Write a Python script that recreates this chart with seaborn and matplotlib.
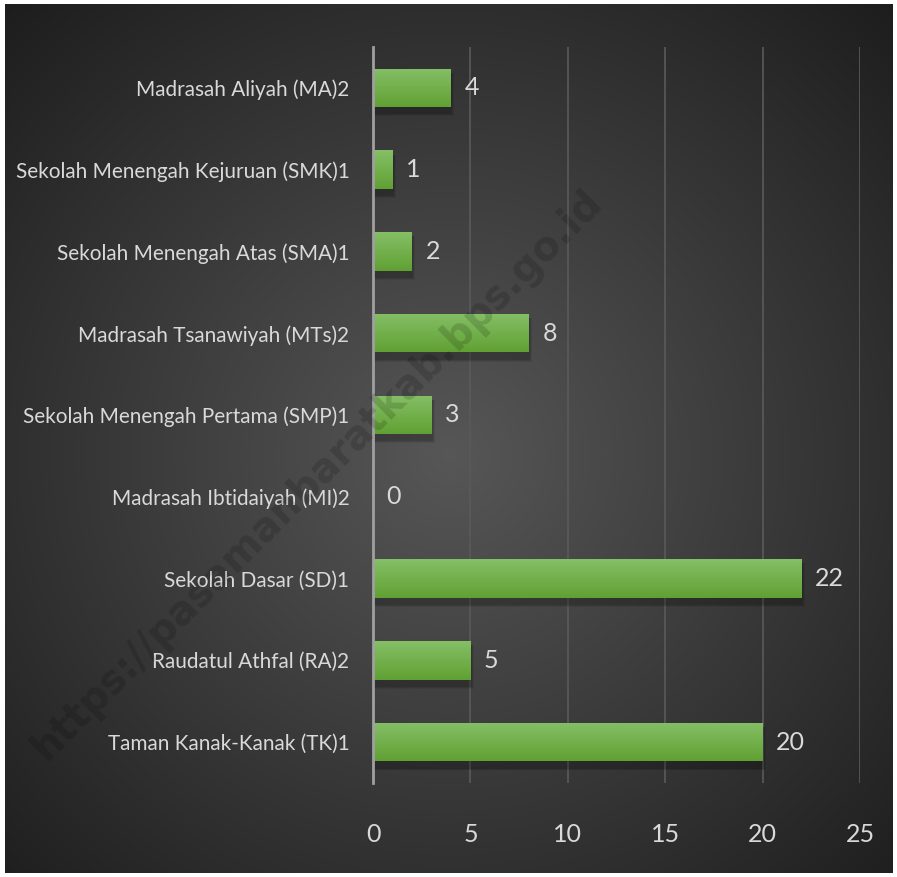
import numpy as np
import pandas as pd
import matplotlib
matplotlib.use("Agg")
import matplotlib.pyplot as plt
import seaborn as sns
from matplotlib.patches import Rectangle
from matplotlib import font_manager

categories = [
    "Madrasah Aliyah (MA)2",
    "Sekolah Menengah Kejuruan (SMK)1",
    "Sekolah Menengah Atas (SMA)1",
    "Madrasah Tsanawiyah (MTs)2",
    "Sekolah Menengah Pertama (SMP)1",
    "Madrasah Ibtidaiyah (MI)2",
    "Sekolah Dasar (SD)1",
    "Raudatul Athfal (RA)2",
    "Taman Kanak-Kanak (TK)1",
]
values = [4, 1, 2, 8, 3, 0, 22, 5, 20]
x_ticks = [0, 5, 10, 15, 20, 25]
watermark = "https://pasamanbaratkab.bps.go.id"

df = pd.DataFrame({"jenjang": categories, "jumlah": values})

sns.set_style("dark")
plt.rcParams["font.family"] = ["Lato", "DejaVu Sans"]
fprop = font_manager.FontProperties(family=["Lato", "DejaVu Sans"])
numprop = font_manager.FontProperties(family=["Lato", "DejaVu Sans"], size=18)
txt_col = "#d9d9d9"

fig = plt.figure(figsize=(8.97, 8.77), dpi=100, facecolor="white")
renderer = fig.canvas.get_renderer()

# fit font size so the longest label is about 332 px wide
fs = 18
probe = fig.text(0, 0, categories[1], fontproperties=fprop, fontsize=fs)
wpx = probe.get_window_extent(renderer).width
probe.remove()
fs = min(22, fs * 334 / wpx)
fprop.set_size(fs)

# dark radial background
bg = fig.add_axes([5 / 897, 4 / 877, 887 / 897, 869 / 877], zorder=0)
yy, xx = np.mgrid[0:1:400j, 0:1:400j]
r = np.sqrt((xx - 0.5) ** 2 + (yy - 0.52) ** 2) / 0.72
r = np.clip(r, 0, 1)
g = 0.34 * (1 - r) + 0.115 * r
bg.imshow(np.dstack([g, g, g]), extent=[0, 1, 0, 1], aspect="auto")
bg.axis("off")

ax = fig.add_axes([373 / 897, 1 - 783 / 877, 487 / 897, 736 / 877], zorder=2)
ax.patch.set_alpha(0)
sns.barplot(data=df, x="jumlah", y="jenjang", orient="h", color="#6aad3d",
            width=0.47, linewidth=0, ax=ax, zorder=3)
ax.set_xlim(0, 25)
ax.set_ylim(len(categories) - 0.5, -0.5)

# gradient + soft shadow on bars
grad = np.linspace(0, 1, 50)
top = np.array([0.52, 0.75, 0.40])
bot = np.array([0.38, 0.63, 0.20])
img = (top[None, :] * (1 - grad[:, None]) + bot[None, :] * grad[:, None]).reshape(50, 1, 3)
for p in list(ax.patches):
    x0, y0 = p.get_x(), p.get_y()
    w, h = p.get_width(), p.get_height()
    if w <= 0:
        continue
    for k, a in [(0.35, 0.07), (0.25, 0.09), (0.15, 0.11)]:
        ax.add_patch(Rectangle((x0, y0 + 0.05), w + k * 0.5, h + 0.02 + k * 0.12,
                               color="black", alpha=a, lw=0, zorder=2))
    im = ax.imshow(img, extent=[x0, x0 + w, y0 + h, y0], aspect="auto",
                   zorder=4, interpolation="bilinear")
    im.set_clip_path(p)
ax.set_xlim(0, 25)
ax.set_ylim(len(categories) - 0.5, -0.5)

for i, v in enumerate(values):
    ax.text(v + 0.7, i, str(v), va="center", ha="left", color=txt_col,
            fontproperties=numprop, zorder=5)

ax.set_xticks(x_ticks)
ax.grid(axis="x", color="#5a5a5a", lw=1.2, zorder=1)
ax.grid(axis="y", visible=False)
for s in ["top", "right", "bottom"]:
    ax.spines[s].set_visible(False)
ax.spines["left"].set_color("#a0a0a0")
ax.spines["left"].set_linewidth(2)
ax.spines["left"].set_zorder(6)
ax.tick_params(axis="x", colors=txt_col, length=0, pad=29)
ax.tick_params(axis="y", colors=txt_col, length=0, pad=17)
for lab in ax.get_xticklabels():
    lab.set_fontproperties(numprop)
for lab in ax.get_yticklabels():
    lab.set_fontproperties(fprop)
ax.set_xlabel("")
ax.set_ylabel("")

fig.text(0.354, 0.458, watermark, rotation=45, ha="center", va="center",
         fontsize=28.5, fontweight="bold", color="black", alpha=0.15,
         family=["DejaVu Sans"], zorder=7)

fig.savefig("out.png", dpi=100, facecolor="white")
